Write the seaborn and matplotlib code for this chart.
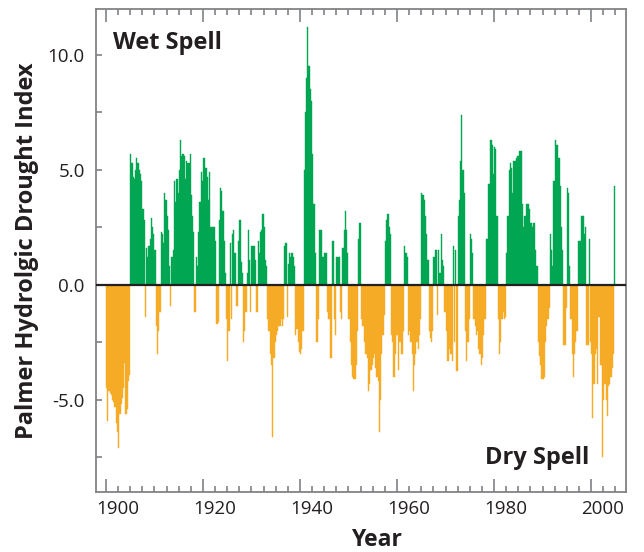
import numpy as np
import pandas as pd
import seaborn as sns
import matplotlib.pyplot as plt
import matplotlib.transforms as mtransforms

# Quarterly PHDI values, one list per decade (4 values per year)
phdi_1900s = [-4.5, -5.9, -4.6, -4.7, -4.8, -5.0, -5.1, -5.3, -6.0, -6.4, -7.1, -5.6,
              -5.2, -4.9, -4.5, -3.4, -5.6, -5.4, -4.2, -3.9, 5.7, 5.3, 4.7, 4.6,
              5.0, 5.5, 5.3, 5.0, 4.8, 4.5, 3.3, 2.8, -1.4, 1.6, 1.2, 1.7,
              2.0, 2.9, 2.5, 2.2]
phdi_1910s = [1.5, -1.8, -3.0, -2.0, -1.2, 2.3, 2.2, 1.8, 4.0, 3.7, 3.0, 2.4,
              0.8, -0.9, 1.2, 1.5, 4.5, 3.6, 4.6, 4.0, 5.0, 6.3, 5.6, 5.7,
              5.6, 4.6, 5.4, 5.3, 5.3, 5.7, 3.9, 3.0, 2.3, -1.2, 1.2, 0.8,
              2.3, 3.6, 4.9, 4.5]
phdi_1920s = [5.5, 5.5, 5.1, 4.7, 3.7, 4.9, 2.5, 2.5, 2.5, 2.5, 1.9, -1.7,
              -1.6, 2.8, 4.2, 4.1, 3.2, 1.9, 0.5, -1.5, -3.3, -2.0, 1.8, -1.5,
              2.2, 2.4, 1.4, -0.9, -0.9, 1.9, 2.8, 1.0, 0.5, -2.5, -2.0, -1.2,
              0.5, 2.4, 1.1, -1.2]
phdi_1930s = [1.7, 1.7, 1.7, 1.1, -1.2, 1.9, 1.4, 2.3, 2.4, 3.1, 2.5, 1.1,
              0.8, -1.5, -2.0, -3.0, -3.5, -6.6, -3.2, -2.5, -2.2, -2.0, -1.8, -1.8,
              -1.5, -1.8, -1.5, 1.7, 1.8, -1.4, 0.9, 1.4, 1.2, 1.4, 1.2, 0.8,
              -2.2, -1.9, -2.5, -2.9]
phdi_1940s = [-3.0, -2.8, -2.0, 5.0, 7.5, 9.0, 11.2, 9.5, 8.5, 8.0, 5.7, 3.5,
              1.4, -2.5, -2.5, -1.5, 2.4, 2.4, 1.2, 1.2, 1.4, 1.4, -1.2, -1.5,
              -1.5, -3.2, 1.9, 1.9, -1.5, -2.2, 1.2, 1.2, 1.2, -1.2, -1.5, 1.6,
              2.4, 3.2, 2.4, 1.4]
phdi_1950s = [-1.5, -2.5, -3.5, -4.0, -4.1, -4.1, -3.5, -2.0, 2.0, 2.7, -1.5, -1.8,
              -1.8, -2.5, -3.0, -3.2, -4.6, -4.3, -3.7, -3.5, -3.2, -3.0, -3.6, -4.0,
              -4.2, -6.4, -5.0, -3.0, -2.2, -1.3, 1.9, 2.8, 3.1, 2.5, 2.2, -2.2,
              -2.5, -4.0, -3.0, -2.2]
phdi_1960s = [-2.2, -3.7, -2.5, -3.0, -3.0, -2.0, 1.7, 1.4, 1.2, -2.2, -2.0, -2.5,
              -3.0, -4.6, -3.5, -3.0, -2.5, -2.8, -2.2, -1.5, 4.0, 3.9, 3.7, 3.0,
              2.2, 1.1, -2.0, -2.3, -2.5, -2.0, 1.2, 1.5, 1.5, -1.3, 1.5, 0.5,
              2.2, 1.1, 0.8, -1.2]
phdi_1970s = [-2.0, -3.3, -3.3, -2.8, -3.0, -3.3, 1.7, -2.5, 1.5, -3.75, 3.0, 3.7,
              5.4, 7.4, 5.0, 4.0, -2.0, -3.3, -2.5, -1.5, 2.2, 2.0, 1.4, -1.5,
              -1.8, -2.2, -2.0, -2.8, -3.0, -3.5, -3.2, -2.2, -1.5, 2.0, 2.0, 4.4,
              4.4, 6.3, 6.1, 4.8]
phdi_1980s = [6.0, 5.9, 3.0, -1.5, -3.0, -2.5, -1.5, -1.2, -1.5, -1.4, 1.4, 3.0,
              5.0, 5.3, 5.1, 4.0, 5.4, 5.4, 5.5, 5.6, 5.6, 5.8, 5.8, 3.5,
              2.5, 3.0, 3.5, 3.5, 3.5, 3.3, 2.7, 2.5, 2.7, 2.7, 1.5, 0.8,
              -2.5, -3.1, -3.5, -4.1]
phdi_1990s = [-4.1, -4.0, -2.5, -1.8, -1.5, -1.0, 2.2, 1.5, 0.8, 4.5, 6.3, 6.1,
              6.1, 5.5, 4.3, 2.5, 1.5, -2.6, -2.6, -1.0, 4.2, 4.0, 0.8, -1.5,
              -3.0, -4.0, -3.0, -2.5, -2.0, 1.9, 1.9, 1.9, 3.0, 3.0, 2.2, 2.5,
              -2.6, -2.6, 2.0, -2.5]
phdi_2000s = [-3.0, -5.8, -4.3, -3.0, -2.8, -4.3, -1.4, -3.5, -3.5, -7.5, -5.0, -4.3,
              -5.0, -5.7, -4.4, -4.3, -4.0, -3.6, -3.0, 4.3]

first_year = 1900
year_ticks = [1900, 1920, 1940, 1960, 1980, 2000]
y_ticks = [-5.0, 0.0, 5.0, 10.0]
y_tick_labels = ["-5.0", "0.0", "5.0", "10.0"]

green = "#00a651"
orange = "#f5ab25"
frame = "#808285"
ink = "#231f20"

phdi = np.concatenate([phdi_1900s, phdi_1910s, phdi_1920s, phdi_1930s, phdi_1940s,
                       phdi_1950s, phdi_1960s, phdi_1970s, phdi_1980s, phdi_1990s,
                       phdi_2000s])
t = first_year + (np.arange(len(phdi)) + 0.5) / 4
df = pd.DataFrame({"t": t, "phdi": phdi,
                   "spell": np.where(phdi >= 0, "Wet", "Dry")})

sns.set_theme(style="white")
plt.rcParams["font.family"] = ["Open Sans", "DejaVu Sans"]

fig, ax = plt.subplots(figsize=(6.44, 5.52), dpi=100)
fig.subplots_adjust(left=0.149, right=0.972, bottom=0.109, top=0.984)

sns.barplot(data=df, x="t", y="phdi", hue="spell",
            palette={"Wet": green, "Dry": orange},
            native_scale=True, dodge=False, width=1.0, saturation=1,
            errorbar=None, legend=False, linewidth=0, ax=ax)
for p in ax.patches:
    p.set_edgecolor(p.get_facecolor())
    p.set_linewidth(0.3)

ax.axhline(0, color=ink, lw=1.6, zorder=5)

ax.set_xlim(1897.94, 2007.2)
ax.set_ylim(-9, 12)
ax.set_xticks(year_ticks)
ax.set_xticks(np.arange(1902.5, 2006, 2.5), minor=True)
ax.set_xticklabels([str(y) for y in year_ticks])
ax.set_yticks(y_ticks)
ax.set_yticklabels(y_tick_labels)
ax.set_yticks([-7.5, -2.5, 2.5, 7.5], minor=True)

ax.tick_params(which="both", direction="in", top=True, bottom=True, left=True,
               right=False, color=frame, width=1.2, labelsize=13.5, labelcolor=ink)
ax.tick_params(axis="x", which="major", length=9.5, pad=6)
ax.tick_params(axis="x", which="minor", length=4.5)
ax.tick_params(axis="y", which="both", length=4.5, pad=8)

offset = mtransforms.ScaledTranslation(0.12, 0, fig.dpi_scale_trans)
for lab in ax.get_xticklabels():
    lab.set_transform(lab.get_transform() + offset)

for s in ax.spines.values():
    s.set_color(frame)
    s.set_linewidth(1.3)

ax.set_xlabel("Year", fontsize=16.5, fontweight="bold", color=ink, labelpad=7)
ax.xaxis.label.set_x(0.53)
ax.set_ylabel("Palmer Hydrolgic Drought Index", fontsize=17, fontweight="bold",
              color=ink, labelpad=6)

ax.text(0.032, 0.93, "Wet Spell", transform=ax.transAxes, ha="left", va="center",
        fontsize=17, fontweight="bold", color=ink)
ax.text(0.93, 0.07, "Dry Spell", transform=ax.transAxes, ha="right", va="center",
        fontsize=17, fontweight="bold", color=ink)

fig.savefig("out.png", dpi=100)
